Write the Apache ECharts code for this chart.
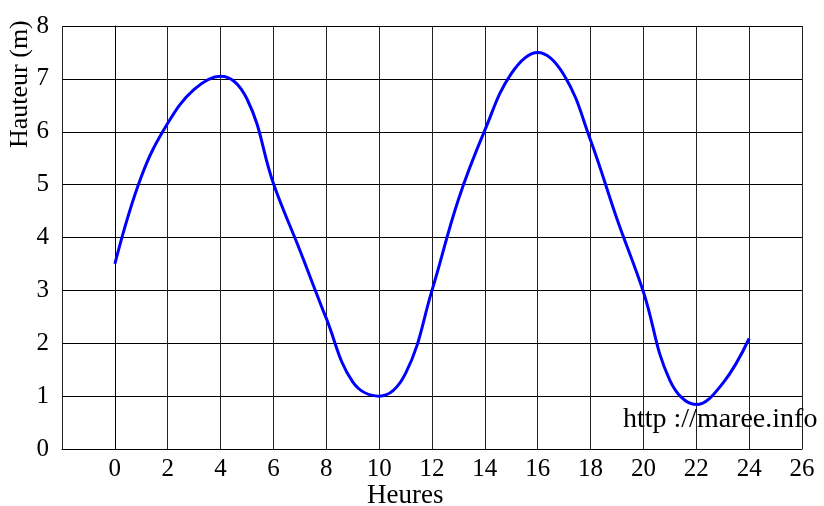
<!DOCTYPE html>
<html><head><meta charset="utf-8">
<script src="https://cdn.jsdelivr.net/npm/echarts@6/dist/echarts.min.js"></script>
<style>html,body{margin:0;padding:0;background:#fff}#c{width:824px;height:506px}</style>
</head><body><div id="c"></div>
<script>
const hours = [0,1,2,3,4,5,6,7,8,9,10,11,12,13,14,15,16,17,18,19,20,21,22,23,24];
const heights = [3.5,5.15,6.16,6.8,7.05,6.62,5.02,3.76,2.47,1.27,1.0,1.43,3.0,4.72,6.03,7.1,7.5,7.07,5.84,4.35,2.97,1.3,0.84,1.24,2.09];
const xTitle = 'Heures';
const yTitle = 'Hauteur (m)';
const source = 'http ://maree.info';

const font = '"Liberation Serif", serif';
const chart = echarts.init(document.getElementById('c'), null, {renderer:'canvas'});
chart.setOption({
  animation:false,
  grid:{left:62,right:22,top:26,bottom:57,containLabel:false},
  xAxis:{type:'value',min:-2,max:26,interval:2,
    axisLine:{show:true,onZero:false,lineStyle:{color:'#000',width:1}},
    axisTick:{show:false},
    axisLabel:{color:'#000',fontFamily:font,fontSize:25,margin:8,
      formatter:v=> v===-2?'':String(v)},
    splitLine:{show:true,lineStyle:{color:'#222',width:1}}},
  yAxis:{type:'value',min:0,max:8,interval:1,
    axisLine:{show:true,lineStyle:{color:'#000',width:1}},
    axisTick:{show:false},
    axisLabel:{color:'#000',fontFamily:font,fontSize:25,margin:13},
    splitLine:{show:true,lineStyle:{color:'#000',width:1}}},
  series:[{type:'line',data:hours.map((h,i)=>[h,heights[i]]),smooth:0.4,
    showSymbol:false,lineStyle:{color:'#0000ff',width:3},z:3}],
  graphic:[
    {type:'text',left:623,top:406,z:10,style:{text:source,font:'28px '+font,fill:'#000'}},
    {type:'text',left:367,top:482,style:{text:xTitle,font:'27px '+font,fill:'#000'}},
    {type:'text',x:7,y:148,rotation:Math.PI/2,style:{text:yTitle,font:'26px '+font,fill:'#000',align:'left',verticalAlign:'top'}}
  ]
});
</script></body></html>
